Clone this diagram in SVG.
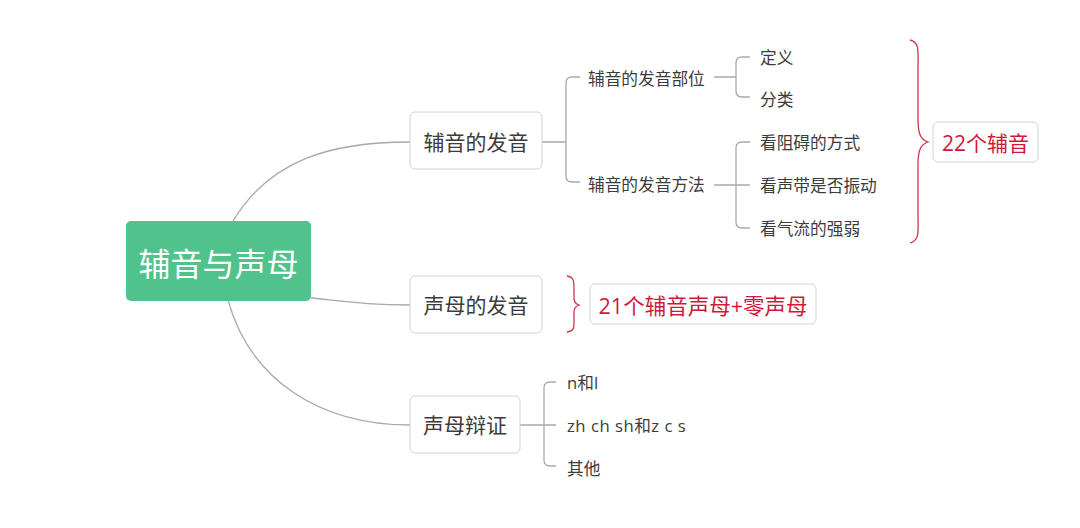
<svg xmlns="http://www.w3.org/2000/svg" width="1080" height="528" viewBox="0 0 1080 528">
<style>
text{font-family:"Open Sans","Noto Sans CJK SC",sans-serif;fill:#3c3c3c;dominant-baseline:central}
.box{fill:#fff;stroke:#d2d2d2;stroke-width:1}
.l1{font-size:21px}
.l2{font-size:16.7px}
.con{fill:none;stroke:#a8a8a8;stroke-width:1.3}
.brace{fill:none;stroke:#d0334a;stroke-width:1.3}
.red{fill:#d0193a}
</style>
<rect width="1080" height="528" fill="#fff"/>
<g id="connectors">
<path class="con" d="M233,221 C270,160 330,142 410,142"/>
<path class="con" d="M311,298 C350,302 370,305 410,305"/>
<path class="con" d="M228,300 C250,380 320,425 410,425"/>
<path class="con" d="M542,142 H566 M580,77 H572 Q566,77 566,83 V176 Q566,182 572,182 H580"/>
<path class="con" d="M714,77 H736 M750,57 H742 Q736,57 736,63 V91 Q736,97 742,97 H750"/>
<path class="con" d="M714,185 H750 M750,142 H742 Q736,142 736,148 V222 Q736,228 742,228 H750"/>
<path class="con" d="M520,425 H556 M556,382 H550 Q544,382 544,388 V460 Q544,466 550,466 H556"/>
<path class="brace" d="M910,40 C920,42 918,52 918,70 V120 C918,136 922,140 928,142 C922,144 918,148 918,164 V214 C918,232 920,240 910,243"/>
<path class="brace" d="M567,276 C574,277 574,282 574,288 V298 C574,302 576,304 579,305 C576,306 574,308 574,312 V322 C574,328 574,331 567,332"/>
</g>
<g id="root">
<rect x="126" y="221" width="185" height="80" rx="5" fill="#50c38c"/>
<text x="218.5" y="263" text-anchor="middle" font-size="32" style="fill:#fff">辅音与声母</text>
</g>
<g id="n1">
<rect class="box" x="410" y="112" width="132" height="57" rx="5"/>
<text class="l1" x="476" y="142" text-anchor="middle">辅音的发音</text>
</g>
<g id="n2">
<rect class="box" x="410" y="276" width="132" height="57" rx="5"/>
<text class="l1" x="476" y="305" text-anchor="middle">声母的发音</text>
</g>
<g id="n3">
<rect class="box" x="410" y="396" width="110" height="57" rx="5"/>
<text class="l1" x="465" y="425" text-anchor="middle">声母辩证</text>
</g>
<g id="n1a"><text class="l2" x="588" y="78">辅音的发音部位</text></g>
<g id="n1b"><text class="l2" x="588" y="184">辅音的发音方法</text></g>
<g id="n1a1"><text class="l2" x="760" y="57">定义</text></g>
<g id="n1a2"><text class="l2" x="760" y="99">分类</text></g>
<g id="n1b1"><text class="l2" x="760" y="142">看阻碍的方式</text></g>
<g id="n1b2"><text class="l2" x="760" y="185">看声带是否振动</text></g>
<g id="n1b3"><text class="l2" x="760" y="228">看气流的强弱</text></g>
<g id="s1">
<rect class="box" x="933" y="122" width="105" height="40" rx="5"/>
<text class="red" x="985.5" y="143" text-anchor="middle" font-size="21">22个辅音</text>
</g>
<g id="s2">
<rect class="box" x="590" y="284" width="226" height="40" rx="5"/>
<text class="red" x="703" y="305" text-anchor="middle" font-size="21.5">21个辅音声母+零声母</text>
</g>
<g id="n3a"><text class="l2" x="567" y="382" font-size="17.5px">n和l</text></g>
<g id="n3b"><text class="l2" x="567" y="425" font-size="17.5px" letter-spacing="0.5">zh ch sh和z c s</text></g>
<g id="n3c"><text class="l2" x="567" y="468">其他</text></g>
</svg>
